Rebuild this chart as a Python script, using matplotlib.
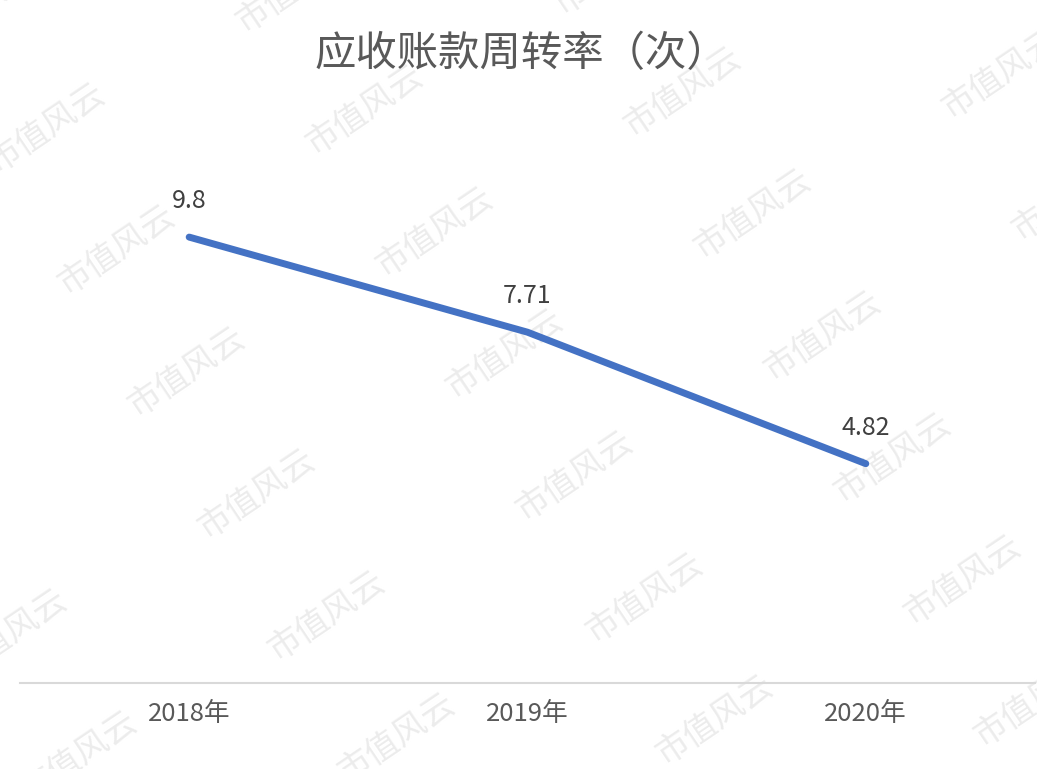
import matplotlib.pyplot as plt
import numpy as np

plt.rcParams['font.family'] = ['Noto Sans CJK SC', 'DejaVu Sans']

years = ['2018年', '2019年', '2020年']
turnover = [9.8, 7.71, 4.82]
labels = ['9.8', '7.71', '4.82']
title = '应收账款周转率（次）'
watermark = '市值风云'

fig = plt.figure(figsize=(10.37, 7.69), dpi=100)

# watermark grid, behind everything
bg = fig.add_axes([0, 0, 1, 1], zorder=0)
bg.set_xlim(0, 1037)
bg.set_ylim(769, 0)
bg.axis('off')
for r in range(-2, 8):
    for c in range(-2, 6):
        px = 365 + c * 318 + r * 70
        py = 110 - c * 18 + r * 122
        if -60 < px < 1100 and -40 < py < 810:
            bg.text(px, py, watermark, fontsize=24, color='#ececec',
                    rotation=34, ha='center', va='center')

ax = fig.add_axes([20 / 1037, 1 - 683 / 769, 1015 / 1037, 546 / 769], zorder=2)
ax.patch.set_alpha(0)

x = np.arange(len(years))
ax.plot(x, turnover, color='#4472C4', linewidth=5, solid_capstyle='round', zorder=3)
for xi, v, t in zip(x, turnover, labels):
    ax.annotate(t, (xi, v), xytext=(0, 26), textcoords='offset points',
                ha='center', va='center', fontsize=18, color='#404040')

ax.set_xlim(-0.5, 2.5)
ax.set_ylim(0, 12)
ax.set_xticks(x)
ax.set_xticklabels(years, fontsize=18.5, color='#595959')
ax.set_yticks([])
ax.tick_params(axis='x', length=0, pad=13)
for s in ['top', 'right', 'left']:
    ax.spines[s].set_visible(False)
ax.spines['bottom'].set_color('#d9d9d9')
ax.spines['bottom'].set_linewidth(1.5)

fig.text(521 / 1037, 1 - 55 / 769, title, fontsize=29.8, color='#595959',
         ha='center', va='center', zorder=3)

fig.savefig('out.png', dpi=100)
